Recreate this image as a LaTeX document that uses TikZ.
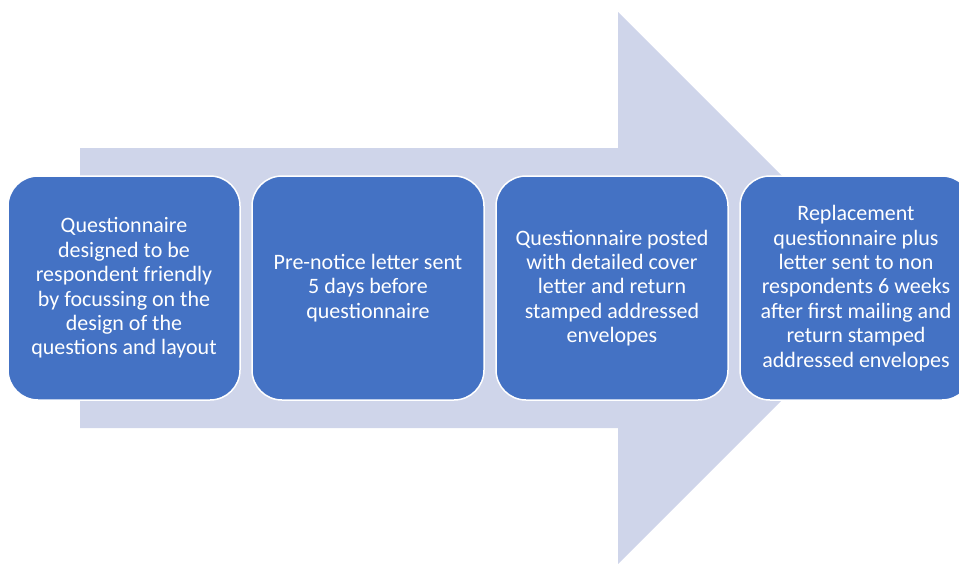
\documentclass[tikz,border=0pt]{standalone}
\usepackage{fontspec}
\setmainfont{Carlito}
\usetikzlibrary{positioning}
\definecolor{arrowfill}{HTML}{CFD5EA}
\definecolor{stepfill}{HTML}{4472C4}
\tikzset{
  stepbox/.style={draw=white, line width=1.5pt, fill=stepfill, rounded corners=30pt,
    minimum width=232pt, minimum height=224pt, align=center, text=white,
    font=\fontsize{22}{24.4}\selectfont, inner sep=0pt, outer sep=0pt}
}
\begin{document}
\begin{tikzpicture}[x=1pt,y=-1pt]
    \useasboundingbox (0,0) rectangle (959,563);
    % big background arrow
    \fill[arrowfill] (80,148) -- (618,148) -- (618,12) -- (894,288)
        -- (618,564) -- (618,428) -- (80,428) -- cycle;
    % the four steps, left to right
    \node[stepbox] (s1) at (124,288) {Questionnaire\\designed to be\\respondent friendly\\by focussing on the\\design of the\\questions and layout};
    \node[stepbox, right=12pt of s1] (s2) {Pre-notice letter sent\\5 days before\\questionnaire};
    \node[stepbox, right=12pt of s2] (s3) {Questionnaire posted\\with detailed cover\\letter and return\\stamped addressed\\envelopes};
    \node[stepbox, right=12pt of s3] (s4) {Replacement\\questionnaire plus\\letter sent to non\\respondents 6 weeks\\after first mailing and\\return stamped\\addressed envelopes};
\end{tikzpicture}
\end{document}
